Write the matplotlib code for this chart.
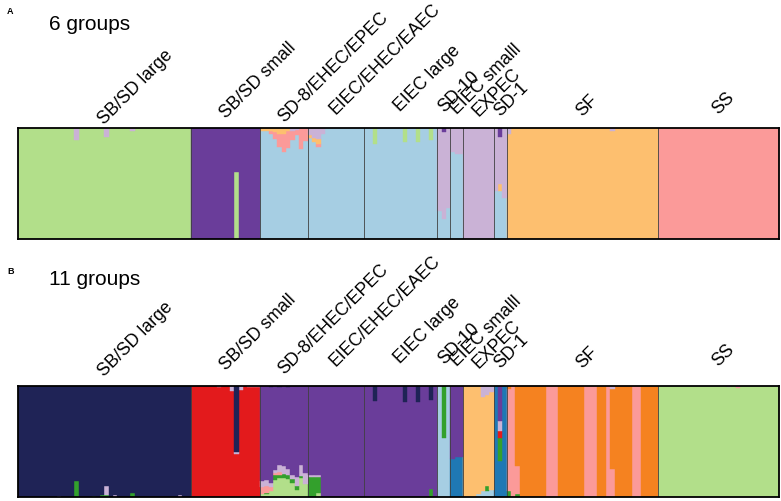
import numpy as np
import matplotlib
matplotlib.use('Agg')
import matplotlib.pyplot as plt

plt.rcParams['font.family'] = ['Liberation Sans', 'DejaVu Sans']

# ---------------- data ----------------
groups = ['SB/SD large', 'SB/SD small', 'SD-8/EHEC/EPEC', 'EIEC/EHEC/EAEC', 'EIEC large',
          'SD-10', 'EIEC smalll', 'EXPEC', 'SD-1', 'SF', 'SS']
group_sizes = [40, 16, 11, 13, 17, 3, 3, 7, 3, 35, 28]

# Panel A: K = 6 (clusters listed in stacking order, bottom -> top)
A_clusters = ['lblue', 'lgreen', 'pink', 'lorange', 'lpurple', 'purple']
A_colors = ['#a6cee3', '#b2df8a', '#fb9a99', '#fdbf6f', '#cab2d6', '#6a3d9a']
A_base = ['lgreen', 'purple', 'lblue', 'lblue', 'lblue', 'lpurple', 'lblue',
          'lpurple', 'lpurple', 'lorange', 'pink']
A_runs = []
A_mix = {
    13: {'lpurple': .11}, 20: {'lpurple': .08}, 26: {'lpurple': .03},
    50: {'lgreen': .60},
    56: {'lorange': .025}, 57: {'lorange': .03}, 58: {'lorange': .03, 'pink': .02},
    59: {'lorange': .04, 'pink': .06}, 60: {'lorange': .05, 'pink': .12},
    61: {'lorange': .05, 'pink': .17}, 62: {'lorange': .03, 'pink': .15},
    63: {'pink': .08, 'lpurple': .03}, 64: {'pink': .04, 'lpurple': .02},
    65: {'pink': .19}, 66: {'pink': .12},
    67: {'lpurple': .06, 'lorange': .03}, 68: {'lpurple': .09, 'lorange': .04},
    69: {'lpurple': .10, 'lorange': .04, 'pink': .03}, 70: {'lpurple': .05},
    82: {'lgreen': .14}, 89: {'lgreen': .13}, 92: {'lgreen': .13}, 95: {'lgreen': .11},
    97: {'lblue': .25}, 98: {'lblue': .18, 'purple': .04}, 99: {'lblue': .28},
    100: {'lpurple': .22}, 101: {'lpurple': .23}, 102: {'lpurple': .23},
    110: {'lblue': .43}, 111: {'lblue': .43, 'lorange': .07, 'purple': .08},
    112: {'lblue': .37},
    113: {'lpurple': .05}, 137: {'lpurple': .03},
}

# Panel B: K = 11
B_clusters = ['lblue', 'mblue', 'lgreen', 'green', 'pink', 'red', 'lorange',
              'orange', 'lpurple', 'purple', 'navy']
B_colors = ['#a6cee3', '#1f78b4', '#b2df8a', '#33a02c', '#fb9a99', '#e31a1c',
            '#fdbf6f', '#f58220', '#cab2d6', '#6a3d9a', '#1f2356']
B_base = ['navy', 'red', 'purple', 'purple', 'purple', 'lblue', 'purple',
          'lorange', 'mblue', 'orange', 'lgreen']
B_runs = [(113, 114, 'pink'), (122, 124, 'pink'), (131, 133, 'pink'),
          (136, 136, 'pink'), (142, 143, 'pink')]
B_mix = {
    9: {'lpurple': .01}, 13: {'green': .14}, 17: {'green': .01}, 19: {'green': .02},
    20: {'green': .02, 'lpurple': .08}, 22: {'lpurple': .02}, 26: {'green': .04},
    37: {'lpurple': .02},
    46: {'lpurple': .015}, 49: {'lpurple': .045}, 50: {'navy': .60, 'lpurple': .01},
    51: {'lpurple': .04}, 53: {'lpurple': .015}, 54: {'lpurple': .015}, 55: {'lpurple': .015},
    56: {'lgreen': .03, 'pink': .06, 'lpurple': .05},
    57: {'lgreen': .03, 'green': .01, 'pink': .06, 'lpurple': .05},
    58: {'lgreen': .05, 'pink': .04, 'lpurple': .04, 'navy': .015},
    59: {'lgreen': .15, 'green': .045, 'pink': .02, 'lpurple': .03},
    60: {'lgreen': .17, 'green': .03, 'pink': .025, 'lpurple': .06, 'navy': .015},
    61: {'lgreen': .17, 'green': .04, 'lpurple': .07},
    62: {'lgreen': .16, 'green': .035, 'lpurple': .06, 'navy': .015},
    63: {'lgreen': .13, 'green': .03, 'lpurple': .04},
    64: {'lgreen': .06, 'green': .04, 'lpurple': .08},
    65: {'lgreen': .17, 'green': .02, 'lpurple': .10},
    66: {'lgreen': .12, 'lpurple': .10},
    67: {'green': .18, 'lpurple': .015}, 68: {'green': .18, 'lpurple': .015},
    69: {'lgreen': .04, 'green': .14, 'lpurple': .015},
    82: {'navy': .14}, 89: {'navy': .15}, 92: {'navy': .15},
    95: {'navy': .13, 'green': .07},
    98: {'green': .47},
    100: {'mblue': .34}, 101: {'mblue': .36}, 102: {'mblue': .36},
    106: {'lblue': .03}, 107: {'lblue': .05, 'lpurple': .10},
    108: {'lblue': .05, 'green': .05, 'lpurple': .08}, 109: {'lblue': .06, 'lpurple': .06},
    111: {'green': .21, 'red': .06, 'lpurple': .09, 'purple': .32},
    113: {'green': .05, 'orange': .03}, 115: {'pink': .25, 'green': .03},
    137: {'pink': .25, 'lpurple': .03},
    164: {'lpurple': .015}, 166: {'pink': .01, 'lpurple': .01},
}

# ---------------- layout ----------------
label_lift_px = [4, 10, 6, 14, 17, 16, 14, 12, 12, 12, 14]


def build(clusters, base, runs, mix):
    n = sum(group_sizes)
    dom = []
    for g, size in enumerate(group_sizes):
        dom += [base[g]] * size
    for s, e, c in runs:
        for i in range(s, e + 1):
            dom[i] = c
    Q = np.zeros((n, len(clusters)))
    for i in range(n):
        Q[i, clusters.index(dom[i])] = 1.0
    for i, parts in mix.items():
        Q[i, :] = 0.0
        Q[i, clusters.index(dom[i])] = 1.0 - sum(parts.values())
        for c, v in parts.items():
            Q[i, clusters.index(c)] += v
    return Q


def draw(ax, Q, colors, extra_lift):
    n = Q.shape[0]
    x = np.arange(n)
    bottom = np.zeros(n)
    for k in range(Q.shape[1]):
        m = Q[:, k] > 0
        if m.any():
            ax.bar(x[m], Q[m, k], bottom=bottom[m], width=1.0, align='edge',
                   color=colors[k], edgecolor=colors[k], linewidth=0.3)
        bottom += Q[:, k]
    bounds = np.cumsum(group_sizes)[:-1]
    for b in bounds:
        ax.axvline(b, color='#404040', lw=0.6, zorder=3)
    ax.set_xlim(0, n)
    ax.set_ylim(0, 1)
    ax.set_xticks([])
    ax.set_yticks([])
    for s in ax.spines.values():
        s.set_linewidth(1.3)
        s.set_color('black')
        s.set_zorder(5)
    starts = np.concatenate([[0], np.cumsum(group_sizes)[:-1]])
    for g, name in enumerate(groups):
        c = starts[g] + group_sizes[g] / 2.0
        ax.annotate(name, xy=(c, 1.0), xycoords=('data', 'axes fraction'),
                    xytext=(0, (label_lift_px[g] + extra_lift) * 0.72),
                    textcoords='offset points', rotation=45, rotation_mode='anchor',
                    ha='left', va='baseline', fontsize=12.8, annotation_clip=False)


W, H = 781, 502
fig = plt.figure(figsize=(W / 100, H / 100), dpi=100)
axA = fig.add_axes([18 / W, (H - 240) / H, 761 / W, 111 / H])
axB = fig.add_axes([18 / W, (H - 498) / H, 761 / W, 111.3 / H])

draw(axA, build(A_clusters, A_base, A_runs, A_mix), A_colors, 0)
draw(axB, build(B_clusters, B_base, B_runs, B_mix), B_colors, 6)

fig.text(7 / W, 1 - 14 / H, 'A', fontsize=6.5, fontweight='bold', va='baseline')
fig.text(49 / W, 1 - 30 / H, '6 groups', fontsize=15, va='baseline')
fig.text(7 / W, 1 - 274 / H, 'B', fontsize=6.5, fontweight='bold', va='baseline')
fig.text(49 / W, 1 - 285 / H, '11 groups', fontsize=15, va='baseline')

fig.savefig('out.png', dpi=100)
